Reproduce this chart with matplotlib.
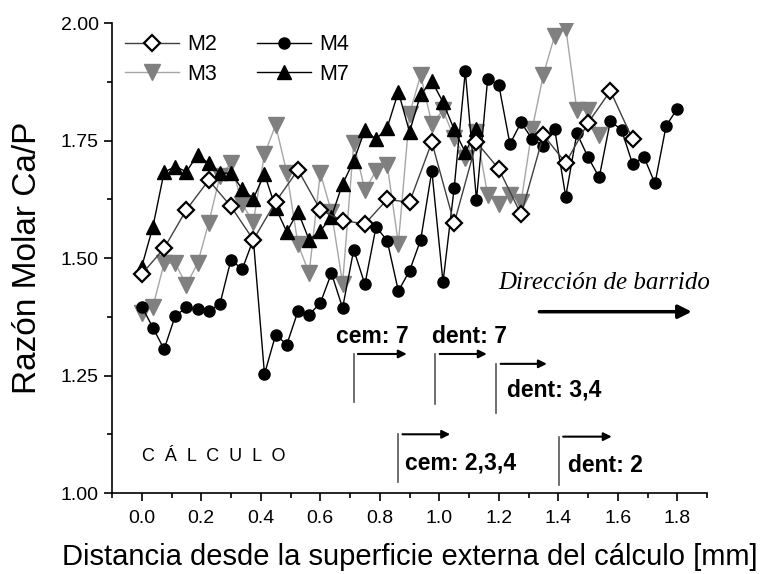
import matplotlib
matplotlib.use('Agg')
from matplotlib import pyplot as plt
from matplotlib.ticker import MultipleLocator, FormatStrFormatter

plt.rcParams['font.family'] = ['Liberation Sans', 'DejaVu Sans']

# distancia de cada punto de medida [mm]
dist = [0.0, 0.0375, 0.075, 0.1125, 0.15, 0.1875, 0.225, 0.2625, 0.3, 0.3375,
        0.375, 0.4125, 0.45, 0.4875, 0.525, 0.5625, 0.6, 0.6375, 0.675, 0.7125,
        0.75, 0.7875, 0.825, 0.8625, 0.9, 0.9375, 0.975, 1.0125, 1.05, 1.0875,
        1.125, 1.1625, 1.2, 1.2375, 1.275, 1.3125, 1.35, 1.3875, 1.425, 1.4625,
        1.5, 1.5375, 1.575, 1.6125, 1.65, 1.6875, 1.725, 1.7625, 1.8]

# razon molar Ca/P por muestra
m2 = [1.466, 1.521, 1.603, 1.666, 1.610, 1.539, 1.620, 1.688, 1.603, 1.580,
      1.573, 1.625, 1.619, 1.747, 1.574, 1.747, 1.690, 1.593, 1.762, 1.703,
      1.788, 1.856, 1.753]
m3 = [1.383, 1.397, 1.489, 1.489, 1.443, 1.489, 1.575, 1.674, 1.702, 1.615,
      1.577, 1.722, 1.783, 1.682, 1.530, 1.468, 1.681, 1.599, 1.446, 1.745,
      1.645, 1.686, 1.698, 1.531, 1.807, 1.890, 1.786, 1.815, 1.756, 1.714,
      1.769, 1.635, 1.616, 1.635, 1.620, 1.776, 1.891, 1.973, 1.991, 1.815,
      1.815, 1.762]
m4 = [1.397, 1.352, 1.306, 1.377, 1.395, 1.391, 1.388, 1.402, 1.497, 1.476,
      1.540, 1.253, 1.337, 1.316, 1.387, 1.380, 1.404, 1.468, 1.394, 1.518,
      1.444, 1.567, 1.537, 1.430, 1.473, 1.539, 1.686, 1.449, 1.649, 1.898,
      1.624, 1.881, 1.869, 1.743, 1.789, 1.753, 1.739, 1.776, 1.631, 1.766,
      1.715, 1.672, 1.792, 1.773, 1.700, 1.716, 1.659, 1.782, 1.818]
m7 = [1.482, 1.567, 1.683, 1.695, 1.684, 1.720, 1.702, 1.681, 1.681, 1.647,
      1.627, 1.679, 1.607, 1.556, 1.599, 1.539, 1.558, 1.588, 1.658, 1.707,
      1.773, 1.753, 1.778, 1.854, 1.769, 1.849, 1.877, 1.832, 1.774, 1.725,
      1.774]

x_m2 = dist[0:45:2]
x_m3 = dist[:len(m3)]
x_m4 = dist[:len(m4)]
x_m7 = dist[:len(m7)]

# limites de cemento / dentina: (etiqueta, x inicio, y flecha, y fin linea, x fin flecha, texto x, texto y)
limites = [
    ('cem: 7', 0.712, 1.296, 1.194, 0.900, 0.652, 1.333),
    ('dent: 7', 0.987, 1.296, 1.190, 1.169, 0.974, 1.333),
    ('dent: 3,4', 1.192, 1.275, 1.170, 1.371, 1.228, 1.219),
    ('cem: 2,3,4', 0.862, 1.125, 1.024, 1.046, 0.884, 1.064),
    ('dent: 2', 1.402, 1.120, 1.018, 1.589, 1.434, 1.058),
]

fig = plt.figure(figsize=(7.61, 5.74), dpi=100)
ax = fig.add_axes([0.1472, 0.1411, 0.7819, 0.8183])

ax.plot(x_m3, m3, '-', color='#a6a6a6', lw=1.0, marker='v', ms=11.5,
        mfc='#808080', mec='#808080', label='M3')
ax.plot(x_m7, m7, '-', color='black', lw=1.0, marker='^', ms=10,
        mfc='black', mec='black', label='M7')
ax.plot(x_m4, m4, '-', color='black', lw=1.0, marker='o', ms=8,
        mfc='black', mec='black', label='M4')
ax.plot(x_m2, m2, '-', color='#404040', lw=1.0, marker='D', ms=8.5,
        mfc='white', mec='black', mew=1.6, label='M2')

ax.set_xlim(-0.1, 1.9)
ax.set_ylim(1.0, 2.0)
ax.xaxis.set_major_locator(MultipleLocator(0.2))
ax.xaxis.set_minor_locator(MultipleLocator(0.1))
ax.xaxis.set_major_formatter(FormatStrFormatter('%.1f'))
ax.yaxis.set_major_locator(MultipleLocator(0.25))
ax.yaxis.set_minor_locator(MultipleLocator(0.125))
ax.yaxis.set_major_formatter(FormatStrFormatter('%.2f'))
ax.tick_params(axis='x', which='major', pad=6)
ax.tick_params(which='major', direction='out', length=6, width=1.2, labelsize=14)
ax.tick_params(which='minor', direction='out', length=3.5, width=1.2)
ax.spines['top'].set_visible(False)
ax.spines['right'].set_visible(False)
ax.spines['left'].set_linewidth(1.2)
ax.spines['bottom'].set_linewidth(1.2)

ax.set_xlabel('Distancia desde la superficie externa del cálculo [mm]', fontsize=21, labelpad=12)
ax.set_ylabel('Razón Molar Ca/P', fontsize=24, labelpad=13)

handles, labels = ax.get_legend_handles_labels()
orden = [labels.index(n) for n in ['M2', 'M3', 'M4', 'M7']]
ax.legend([handles[i] for i in orden], [labels[i] for i in orden], ncol=2,
          loc='upper left', bbox_to_anchor=(0.022, 0.977), frameon=False,
          fontsize=15.5, handlelength=2.5, handletextpad=0.4, columnspacing=1.85,
          labelspacing=0.4, borderpad=0, borderaxespad=0)

# direccion de barrido
ax.text(1.556, 1.447, 'Dirección de barrido', family='Liberation Serif', style='italic',
        fontsize=18, ha='center', va='center')
ax.annotate('', xy=(1.858, 1.386), xytext=(1.327, 1.386),
            arrowprops=dict(arrowstyle='-|>', color='black', lw=2.5, mutation_scale=20))

for nombre, x0, y_flecha, y_fin, x_fin, tx, ty in limites:
    ax.plot([x0, x0], [y_flecha, y_fin], color='#555555', lw=1.2)
    ax.annotate('', xy=(x_fin, y_flecha), xytext=(x0 + 0.005, y_flecha),
                arrowprops=dict(arrowstyle='-|>', color='black', lw=1.5, mutation_scale=12))
    ax.text(tx, ty, nombre, fontsize=16.5, fontweight='bold', ha='left', va='center')

ax.text(0.0, 1.077, 'C  Á  L  C  U  L  O', fontsize=13, ha='left', va='center')

fig.savefig('out.png', dpi=100)
